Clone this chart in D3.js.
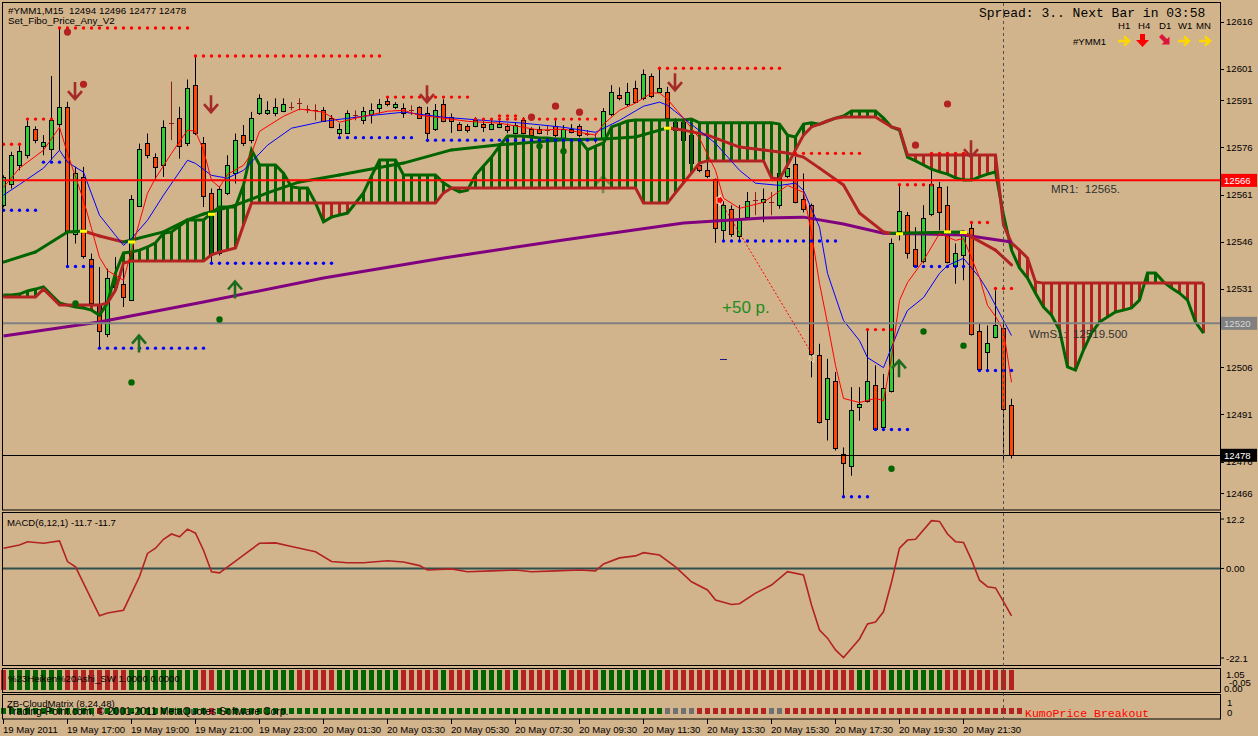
<!DOCTYPE html>
<html><head><meta charset="utf-8">
<script src="https://cdn.jsdelivr.net/npm/d3@7/dist/d3.min.js"></script>
<style>
html,body{margin:0;padding:0;background:#D2B48C;overflow:hidden}
svg{display:block}
text{white-space:pre}
</style>
</head><body>
<svg id="chart" width="1258" height="736"></svg>
<script>
// ---------------- DATA ----------------
// candles: [open, high, low, close] for bars 0..126 (M15)
const candles = [
[12557.6,12567.1,12556.9,12566.6],[12564.5,12574.6,12562.9,12573.7],[12570.5,12577.4,12568.7,12574.8],[12573.7,12584.6,12572.5,12582.7],
[12581.7,12582.7,12577.3,12578.5],[12576.4,12579.9,12573.5,12577.6],[12575.6,12598.7,12571.9,12584.6],[12583.6,12614.0,12575.1,12588.7],
[12588.7,12590.5,12537.9,12549.4],[12548.5,12569.8,12545.4,12567.7],[12566.6,12569.8,12540.6,12541.3],[12540.6,12542.2,12525.7,12526.4],
[12526.2,12537.9,12512.4,12517.7],[12516.7,12537.4,12515.6,12534.5],[12533.7,12541.1,12530.5,12531.5],[12532.6,12542.2,12525.2,12528.3],
[12527.5,12560.8,12527.3,12559.7],[12557.3,12577.2,12557.3,12575.6],[12577.5,12580.4,12572.5,12573.7],[12572.8,12574.1,12565.5,12569.6],
[12570.5,12584.6,12566.6,12582.5],[12583.8,12596.9,12578.3,12583.8],[12585.5,12588.9,12572.4,12576.4],[12577.4,12597.6,12576.4,12594.8],
[12595.8,12604.8,12579.9,12580.6],[12577.5,12579.3,12557.0,12560.5],[12561.6,12562.9,12539.5,12542.2],[12542.4,12563.6,12541.6,12562.6],
[12561.5,12573.5,12560.8,12570.5],[12567.9,12580.4,12564.5,12578.5],[12579.9,12583.1,12576.4,12577.5],[12578.3,12587.3,12577.3,12585.5],
[12586.8,12592.9,12586.3,12591.6],[12586.8,12590.7,12586.3,12587.8],[12586.8,12591.6,12585.9,12588.7],[12587.6,12591.6,12587.2,12589.7],
[12588.9,12590.4,12587.8,12588.9],[12590.0,12591.6,12587.8,12590.0],[12588.2,12589.4,12586.9,12588.2],[12587.8,12589.7,12584.6,12587.8],
[12587.8,12588.8,12584.3,12584.4],[12585.5,12586.3,12582.1,12582.5],[12580.7,12583.6,12579.7,12581.8],[12580.7,12587.8,12580.5,12586.8],
[12586.3,12587.8,12584.6,12586.3],[12584.6,12588.9,12583.4,12587.6],[12586.6,12590.0,12583.6,12587.8],[12588.6,12591.4,12586.8,12589.8],
[12590.7,12592.1,12589.1,12589.7],[12588.7,12590.4,12588.2,12589.8],[12588.6,12590.0,12585.4,12586.8],[12587.8,12589.4,12586.3,12587.8],
[12588.7,12589.1,12585.3,12585.5],[12586.8,12588.9,12577.7,12580.7],[12581.7,12589.8,12581.2,12587.8],[12589.8,12591.3,12584.0,12584.4],
[12585.7,12586.8,12580.6,12584.4],[12583.6,12584.0,12581.2,12581.5],[12582.7,12583.4,12580.7,12581.5],[12582.7,12585.6,12582.4,12584.6],
[12583.6,12584.3,12580.9,12582.5],[12581.7,12585.2,12581.5,12583.6],[12582.5,12584.6,12582.1,12583.6],[12582.7,12583.6,12580.5,12581.5],
[12580.6,12584.0,12580.2,12583.1],[12584.6,12585.6,12580.2,12580.6],[12581.7,12582.4,12579.2,12579.9],[12581.7,12582.7,12580.2,12580.6],
[12581.5,12583.1,12579.9,12581.5],[12582.7,12585.2,12579.2,12579.9],[12578.5,12583.1,12577.9,12582.0],[12582.0,12583.4,12580.5,12580.9],
[12582.7,12583.4,12579.2,12579.9],[12580.4,12581.5,12579.6,12580.4],[12578.9,12580.5,12577.3,12578.9],[12579.1,12588.5,12578.3,12587.6],
[12586.6,12595.8,12585.9,12593.7],[12592.6,12595.1,12591.0,12591.6],[12589.8,12596.5,12589.1,12593.7],[12594.8,12597.2,12590.1,12590.5],
[12591.6,12600.8,12591.0,12599.5],[12598.7,12599.5,12591.7,12592.4],[12593.7,12601.1,12593.3,12594.8],[12593.7,12595.3,12584.6,12585.5],
[12584.1,12585.3,12580.8,12581.5],[12584.1,12585.3,12577.6,12578.3],[12579.9,12581.5,12570.3,12570.9],[12570.3,12571.9,12568.1,12568.7],
[12568.7,12571.9,12566.2,12566.8],[12565.8,12566.1,12545.6,12550.5],[12549.6,12559.2,12546.4,12557.6],[12556.5,12557.6,12547.5,12548.5],
[12547.7,12557.6,12546.4,12552.8],[12553.8,12561.8,12553.4,12558.8],[12559.2,12561.8,12554.4,12559.2],[12558.6,12562.9,12552.2,12559.7],
[12558.6,12561.8,12554.4,12558.6],[12557.6,12569.8,12556.5,12567.7],[12566.8,12571.9,12566.2,12569.3],[12570.6,12573.0,12558.2,12558.6],
[12559.7,12567.7,12555.3,12556.5],[12557.6,12558.1,12502.8,12510.3],[12509.8,12513.5,12488.1,12488.5],[12489.6,12508.7,12482.7,12502.6],
[12501.6,12504.5,12479.5,12480.3],[12478.4,12480.5,12464.6,12475.4],[12474.7,12499.7,12471.5,12492.5],[12493.3,12499.7,12489.0,12494.4],
[12495.4,12517.7,12494.8,12501.5],[12500.4,12506.6,12485.8,12486.4],[12487.1,12503.9,12486.5,12499.5],[12498.6,12547.0,12498.0,12545.6],
[12549.3,12563.9,12546.4,12555.7],[12554.6,12555.4,12540.6,12542.4],[12543.5,12550.6,12537.9,12538.4],[12539.7,12557.6,12539.1,12553.5],
[12554.7,12569.3,12554.1,12564.5],[12563.4,12565.0,12549.6,12555.4],[12557.6,12563.6,12539.1,12539.5],[12538.4,12545.4,12532.6,12542.5],
[12541.6,12549.6,12533.7,12549.4],[12550.5,12552.2,12516.1,12516.7],[12517.7,12519.9,12505.0,12505.5],[12510.8,12519.3,12505.0,12513.7],
[12515.6,12530.5,12515.2,12519.6],[12518.6,12519.9,12475.8,12492.8],[12494,12496,12477,12478]
];
const priceTicks = [12616,12601,12591,12576,12561,12546,12531,12521,12506,12491,12476,12466];
const timeTickBars = [0,8,16,24,32,40,48,56,64,72,80,88,96,104,112,120];
const timeLabels = ["19 May 2011","19 May 17:00","19 May 19:00","19 May 21:00","19 May 23:00","20 May 01:30","20 May 03:30","20 May 05:30","20 May 07:30","20 May 09:30","20 May 11:30","20 May 13:30","20 May 15:30","20 May 17:30","20 May 19:30","20 May 21:30"];

// Ichimoku cloud spans, bars 0..150 (24 bars ahead)
const senkouA = [
12529.0,12529.0,12529.3,12530.3,12530.9,12531.6,12529.0,12526.5,12525.8,12525.2,
12524.9,12524.2,12522.6,12526.5,12536.0,12542.4,12542.7,12543.3,12544.3,12545.6,
12548.7,12549.1,12551.0,12552.9,12552.9,12552.9,12555.1,12557.0,12557.0,12557.0,
12564.0,12575.2,12570.4,12570.4,12570.4,12567.8,12563.4,12563.1,12563.1,12558.3,
12552.3,12553.8,12554.5,12555.1,12558.3,12561.5,12566.9,12572.0,12572.0,12572.0,
12567.2,12567.2,12567.2,12567.2,12567.2,12564.7,12563.1,12561.8,12562.4,12567.2,
12570.1,12572.9,12576.4,12579.6,12579.6,12579.6,12579.3,12579.0,12579.0,12578.7,
12578.7,12578.4,12578.4,12575.2,12576.4,12577.4,12582.5,12583.4,12584.4,12584.7,
12584.7,12584.7,12584.7,12584.7,12584.7,12584.7,12585.0,12583.8,12583.8,12583.8,
12583.8,12583.8,12583.8,12583.8,12583.8,12583.8,12583.8,12583.4,12579.9,12579.3,
12583.4,12583.8,12583.4,12584.4,12585.3,12586.0,12587.6,12587.6,12587.6,12587.6,
12585.3,12582.5,12581.5,12572.9,12571.7,12570.4,12569.1,12568.2,12567.5,12566.3,
12565.6,12565.6,12566.6,12567.5,12568.2,12554.5,12543.3,12537.6,12534.4,12529.6,
12525.2,12522.6,12517.9,12506.1,12505.1,12511.5,12516.9,12520.4,12522.0,12523.6,
12524.2,12524.9,12527.4,12536.0,12536.0,12533.2,12531.2,12529.6,12527.4,12520.4,
12516.9];
const senkouB = [
12528.4,12528.4,12528.4,12528.4,12528.4,12530.9,12528.4,12525.8,12525.8,12525.8,
12525.8,12525.8,12525.8,12526.5,12530.6,12539.2,12539.8,12539.8,12539.8,12539.8,
12539.8,12539.8,12539.8,12539.8,12539.8,12539.8,12541.8,12542.7,12543.3,12544.0,
12551.3,12558.3,12558.3,12558.3,12558.3,12558.3,12558.3,12558.3,12558.3,12558.3,
12558.3,12558.3,12558.3,12558.3,12558.3,12558.3,12558.3,12558.3,12558.3,12558.3,
12558.3,12558.3,12558.3,12558.3,12558.3,12561.5,12563.1,12563.1,12563.1,12563.1,
12563.1,12563.1,12563.1,12563.1,12563.1,12563.1,12563.1,12563.1,12563.1,12563.1,
12563.1,12563.1,12563.1,12563.1,12563.1,12563.1,12563.1,12563.1,12563.1,12563.1,
12558.3,12558.3,12558.3,12558.3,12561.5,12564.7,12567.8,12571.0,12571.7,12571.7,
12571.7,12571.7,12571.7,12571.7,12571.7,12571.7,12566.3,12565.9,12570.4,12575.2,
12579.9,12582.5,12583.4,12584.4,12585.3,12585.7,12585.7,12585.7,12585.7,12585.7,
12584.1,12582.5,12581.8,12573.6,12573.6,12573.6,12573.6,12573.6,12573.6,12573.6,
12573.6,12573.6,12573.6,12573.6,12573.6,12551.3,12545.6,12543.3,12540.8,12533.2,
12532.8,12532.8,12532.8,12532.8,12532.8,12532.8,12532.8,12532.8,12532.8,12532.8,
12532.8,12532.8,12532.8,12532.8,12532.8,12532.8,12532.8,12532.8,12532.8,12532.8,
12532.8];

// moving averages read as [bar, price]
const trendMA = [[0,12539.5],[4,12542.7],[8,12549.1],[10,12549.4],[12,12547.8],[15,12545.9],[16,12546.5],[20,12549.1],[23,12552.9],[25,12554.8],[29,12557.6],[33,12561.5],[37,12565.0],[42,12567.2],[50,12571.0],[56,12575.2],[62,12576.8],[70,12578.4],[75,12578.7],[79,12579.3],[83,12582.2],[85,12581.5],[88,12579.9],[92,12576.1],[95,12575.2],[98,12574.2],[100,12572.9],[102,12569.4],[105,12564.0],[107,12555.1],[110,12549.1],[111,12548.7],[120,12549.1],[121,12547.5],[124,12543.3],[126,12538.6]];
const slowMA = [[0,12516.0],[12,12520.4],[25,12526.8],[40,12534.4],[55,12540.8],[70,12546.5],[85,12551.9],[95,12553.5],[100,12553.8],[105,12551.6],[110,12548.7],[115,12548.4],[120,12548.1],[126,12545.9]];
const fastMA = [[0,12563.3],[2,12569.4],[5,12575.1],[7,12582.4],[8,12574.1],[10,12559.2],[11,12550.2],[12,12541.0],[13,12536.8],[15,12533.7],[16,12543.2],[18,12561.4],[19,12566.2],[21,12574.1],[23,12581.5],[24,12581.1],[25,12575.1],[26,12565.5],[27,12563.3],[28,12567.4],[30,12570.3],[31,12574.1],[32,12581.1],[35,12585.9],[37,12588.2],[40,12587.2],[42,12584.0],[45,12585.9],[48,12587.5],[50,12587.8],[52,12586.2],[55,12585.3],[58,12584.3],[62,12583.7],[65,12582.4],[67,12581.5],[70,12581.8],[72,12580.8],[74,12579.9],[75,12583.4],[77,12587.8],[79,12590.1],[81,12593.3],[82,12593.3],[83,12591.3],[85,12585.3],[87,12578.9],[89,12568.7],[90,12559.8],[92,12556.6],[95,12558.5],[98,12563.9],[100,12561.7],[101,12548.6],[102,12532.7],[103,12520.0],[104,12506.6],[105,12496.1],[107,12494.8],[109,12496.1],[110,12495.4],[111,12509.1],[112,12527.3],[113,12533.0],[115,12540.0],[117,12548.6],[119,12546.4],[120,12547.0],[122,12534.6],[123,12525.7],[124,12522.2],[125,12517.7],[126,12501.2]];
const midMA = [[0,12560.8],[2,12564.2],[5,12569.4],[7,12575.1],[8,12571.3],[10,12568.1],[12,12554.4],[14,12548.0],[15,12544.8],[16,12547.0],[18,12552.8],[20,12560.8],[23,12571.9],[24,12570.9],[26,12567.1],[28,12566.2],[30,12568.7],[33,12576.7],[36,12582.1],[40,12584.3],[45,12585.9],[50,12587.2],[55,12585.6],[60,12584.6],[65,12583.7],[70,12582.4],[74,12580.8],[77,12584.6],[80,12589.1],[82,12590.4],[83,12589.4],[85,12585.3],[89,12577.3],[92,12568.7],[94,12564.6],[97,12563.9],[99,12564.6],[100,12562.3],[102,12550.6],[103,12535.9],[105,12520.9],[107,12514.5],[108,12509.1],[110,12505.9],[112,12518.7],[113,12524.1],[115,12528.2],[117,12535.9],[118,12538.4],[120,12540.7],[122,12534.6],[123,12530.5],[126,12516.1]];

// MACD(6,12,1) main line read as [bar, value]
const macd = [[0,5.0],[2,5.8],[3,6.6],[5,6.2],[7,6.8],[8,1.7],[9,0.4],[12,-11.7],[13,-11.0],[15,-10.3],[17,-2.0],[18,3.7],[19,5.0],[20,7.2],[21,8.5],[22,7.8],[23,9.7],[24,8.7],[25,4.5],[26,-0.8],[27,-1.1],[29,1.8],[30,3.3],[32,6.2],[34,6.3],[36,5.4],[39,4.1],[41,1.7],[43,1.4],[45,1.4],[48,1.9],[50,1.6],[52,0.7],[53,-0.4],[56,-0.1],[58,-0.8],[61,-0.6],[64,-0.4],[66,-0.8],[69,-0.6],[72,-0.4],[74,-0.6],[75,1.1],[77,2.6],[79,3.1],[80,3.9],[82,3.3],[84,0.4],[86,-3.3],[88,-5.3],[89,-7.8],[91,-8.9],[92,-8.7],[94,-6.1],[96,-4.1],[98,-0.8],[100,-1.6],[101,-9.0],[102,-15.2],[103,-17.2],[104,-20.1],[105,-22.0],[107,-17.4],[108,-13.7],[109,-13.2],[110,-10.7],[111,-3.4],[112,5.0],[113,7.0],[114,7.2],[116,11.8],[117,11.6],[118,8.5],[119,6.6],[120,6.4],[121,2.1],[122,-2.9],[123,-4.5],[124,-4.8],[125,-8.2],[126,-11.7]];
const macdTicks = [12.2, 0, -22.1];
const macdTickLabels = ["12.2","0.00","-22.1"];

// Heiken Ashi colour per bar (G up / R down) and CloudMatrix state (G, R, A = neutral)
const haColors = "RGGGGGGGRRRRRRRRGGGGGGGGGRRGGGGGGGGGGRRRRRGGGGGGGGRRRRRGRRRGGGGRGRRRRRGRRRRGGGGGGGGRRRRRRRRRRRRRRRRRRRRRRRRGGRRGGGGGGGRRRRRRRRR";
const cloudMatrix = "GGGGGGGGGGGGRGGGGGGGGGGGGGRGGGGGGGGGGGGGGGGGGGGGGGGGGGGGGGGGGGGGGGGGGGGGGGGGGGGGGGGAAAARRRRRRRRRAARRRRRRRRRRRRRRRRRRRRRRRRRRRRRR";

// dotted support / resistance levels: [fromBar, toBar, price]
const redLevels = [[7,23,12614.0],[24,47,12605.1],[82,97,12601.2],[0,2,12577.0],[3,6,12585.0],[48,58,12592.0],[59,74,12585.0],[62,64,12586.0],[99,107,12574.1],[116,120,12574.1],[112,116,12564.1],[121,123,12552.1],[124,126,12531.1],[108,111,12518.0]];
const blueLevels = [[0,4,12556.0],[5,7,12571.3],[8,11,12538.1],[12,25,12512.1],[26,41,12539.1],[42,51,12579.1],[53,74,12578.3],[90,104,12546.2],[114,120,12538.1],[122,126,12505.0],[109,113,12486.2],[105,108,12464.8]];
// signal arrows [bar, price at the arrow tail]
const downArrows = [[9,12596.8],[26,12592.6],[53,12595.8],[84,12599.6],[121,12578.3]];
const upArrows = [[17,12510.7],[29,12527.9],[112,12502.8],[75,12561.4]];
const redDots = [[8,12612.7],[10,12596.1],[66,12585.6],[69,12589.1],[72,12587.2],[114,12576.7],[118,12589.8]];
const greenDots = [[9,12526.3],[16,12501.2],[27,12521.2],[67,12576.4],[70,12574.8],[111,12473.7],[115,12517.4],[120,12512.9]];
const yellowMarks = [[10,12549.3],[16,12545.9],[26,12554.7],[83,12582.1],[112,12548.5],[118,12549.1],[120,12548.9]];
const trade = [[89.6,12559.2],[101.1,12510.4]];
const pivotMR1 = 12565.5, pivotWmS1 = 12520, bidPrice = 12478;
const lastBar = 125;

// ---------------- DRAW ----------------
const SANS = '"Liberation Sans", Arial, sans-serif';
const MONO = '"Liberation Mono", "Courier New", monospace';
const svg = d3.select("#chart");
const BG = "#D2B48C", GREEN = "#006400", BROWN = "#B22222";
svg.append("rect").attr("width",1258).attr("height",736).attr("fill",BG);

function txt(g,xp,yp,s,size,col,fam){
  return g.append("text").attr("x",xp).attr("y",yp).style("font-family",fam||SANS)
    .style("font-size",size+"px").attr("fill",col||"#000").text(s);
}

const x = d3.scaleLinear().domain([0,150]).range([3,1203]);
const y = d3.scaleLinear().domain([12466,12616]).range([493,21.7]);
const yM = d3.scaleLinear().domain([-22.1,12.2]).range([658,519]);

const defs = svg.append("defs");
defs.append("clipPath").attr("id","cm").append("rect").attr("x",3).attr("y",3).attr("width",1217).attr("height",507);
defs.append("clipPath").attr("id","cmacd").append("rect").attr("x",3).attr("y",513).attr("width",1217).attr("height",152);

const main = svg.append("g").attr("clip-path","url(#cm)");

function upArrow(g,k,p,col,op){
  const cx=x(k), yb=y(p);
  g.append("path").attr("d",`M${cx},${yb} V${yb-17} M${cx-7},${yb-9} L${cx},${yb-17} L${cx+7},${yb-9}`)
   .attr("fill","none").attr("stroke",col).attr("stroke-width",2.6).attr("opacity",op||1);
}
function downArrow(g,k,p,col){
  const cx=x(k), yt=y(p);
  g.append("path").attr("d",`M${cx},${yt} V${yt+17} M${cx-7},${yt+9} L${cx},${yt+17} L${cx+7},${yt+9}`)
   .attr("fill","none").attr("stroke",col).attr("stroke-width",2.6);
}
upArrows.filter(a=>a[0]===75).forEach(a=>upArrow(main,a[0],a[1],"#2E6B1E",0.55));

// candles
const cg = main.append("g");
candles.forEach((c,k)=>{
  const [o,h,l,cl]=c, cx=Math.round(x(k));
  const doji = Math.abs(cl-o)<0.05;
  cg.append("line").attr("x1",cx+0.5).attr("x2",cx+0.5).attr("y1",y(h)).attr("y2",y(l))
    .attr("stroke",doji?"#8B1A1A":"#000").attr("stroke-width",1);
  if(doji){
    cg.append("line").attr("x1",cx-2).attr("x2",cx+3).attr("y1",Math.round(y(o))+0.5).attr("y2",Math.round(y(o))+0.5)
      .attr("stroke","#8B1A1A").attr("stroke-width",1);
  } else {
    const top=Math.round(y(Math.max(o,cl))), bot=Math.round(y(Math.min(o,cl)));
    cg.append("rect").attr("x",cx-1.5).attr("y",top+0.5).attr("width",4).attr("height",Math.max(1,bot-top))
      .attr("fill",cl>o?"#32CD32":"#FF4500").attr("stroke","#000").attr("stroke-width",1);
  }
});

// ichimoku cloud hatch
const hg = main.append("g");
senkouA.forEach((a,k)=>{
  const b=senkouB[k];
  hg.append("line").attr("x1",x(k)+0.5).attr("x2",x(k)+0.5).attr("y1",y(a)).attr("y2",y(b))
    .attr("stroke",a>=b?GREEN:BROWN).attr("stroke-width",3);
});
const lineK = d3.line().x((d)=>x(d[0])+0.5).y(d=>y(d[1]));
main.append("path").attr("d",lineK(senkouA.map((v,k)=>[k,v]))).attr("fill","none").attr("stroke",GREEN).attr("stroke-width",3);
main.append("path").attr("d",lineK(senkouB.map((v,k)=>[k,v]))).attr("fill","none").attr("stroke",BROWN).attr("stroke-width",3);

// slow purple MA
main.append("path").attr("d",lineK(slowMA)).attr("fill","none").attr("stroke","#800080").attr("stroke-width",3);
// two-colour trend MA
for(let i=0;i<trendMA.length-1;i++){
  const a=trendMA[i], b=trendMA[i+1];
  main.append("path").attr("d",lineK([a,b])).attr("fill","none")
    .attr("stroke",b[1]>=a[1]?GREEN:BROWN).attr("stroke-width",3).attr("stroke-linecap","round");
}
// fast MAs
main.append("path").attr("d",lineK(midMA)).attr("fill","none").attr("stroke","#0000FF").attr("stroke-width",1);
main.append("path").attr("d",lineK(fastMA)).attr("fill","none").attr("stroke","#FF0000").attr("stroke-width",1);

// horizontal levels
main.append("line").attr("x1",3).attr("x2",1220).attr("y1",y(pivotMR1)).attr("y2",y(pivotMR1)).attr("stroke","#FF0000").attr("stroke-width",2);
main.append("line").attr("x1",3).attr("x2",1220).attr("y1",y(pivotWmS1)).attr("y2",y(pivotWmS1)).attr("stroke","#808080").attr("stroke-width",2);
main.append("line").attr("x1",3).attr("x2",1220).attr("y1",Math.round(y(bidPrice))+0.5).attr("y2",Math.round(y(bidPrice))+0.5).attr("stroke","#000").attr("stroke-width",1);

// dotted levels
function dots(levels,col){
  levels.forEach(L=>{
    for(let k=L[0];k<=L[1];k++){
      main.append("circle").attr("cx",x(k)+0.5).attr("cy",y(L[2])).attr("r",1.7).attr("fill",col);
    }
  });
}
dots(redLevels,"#FF0000");
dots(blueLevels,"#0000FF");

// arrows, dots, markers
downArrows.forEach(a=>downArrow(main,a[0],a[1],"#A52A2A"));
upArrows.filter(a=>a[0]!==75).forEach(a=>upArrow(main,a[0],a[1],"#1E6B1E"));
redDots.forEach(d=>main.append("circle").attr("cx",x(d[0])+0.5).attr("cy",y(d[1])).attr("r",3.6).attr("fill",BROWN));
greenDots.forEach(d=>main.append("circle").attr("cx",x(d[0])+0.5).attr("cy",y(d[1])).attr("r",3.2).attr("fill",GREEN));
yellowMarks.forEach(d=>main.append("rect").attr("x",x(d[0])-3).attr("y",y(d[1])-1.5).attr("width",7).attr("height",3).attr("fill","#FFFF00"));

// trade line
main.append("line").attr("x1",x(trade[0][0])).attr("y1",y(trade[0][1])).attr("x2",x(trade[1][0])).attr("y2",y(trade[1][1]))
  .attr("stroke","#FF0000").attr("stroke-width",1).attr("stroke-dasharray","2,2");
{
  const sx=x(trade[0][0]), sy=y(trade[0][1]);
  main.append("path").attr("d",`M${sx-3},${sy-3} h3 v-2 l4,5 l-4,5 v-2 h-3 z`).attr("fill","#FF0000").attr("stroke","#fff").attr("stroke-width",0.8);
  const ex=x(trade[1][0]), ey=y(trade[1][1]);
  main.append("path").attr("d",`M${ex-3},${ey+5} l5,-4 v8 z`).attr("fill","#C8A060").attr("stroke","#fff").attr("stroke-width",0.6);
}
txt(main,722,313,"+50 p.",17,"#228B22");
main.append("line").attr("x1",720).attr("x2",727).attr("y1",359.5).attr("y2",359.5).attr("stroke","#1a1a80").attr("stroke-width",1);
txt(main,1051,193,"MR1:  12565.",11.5,"#303030");
txt(main,1029,338,"WmS1:  12519.500",11.5,"#303030");

// header texts
txt(svg,8,14,"#YMM1,M15  12494 12496 12477 12478",9.8);
txt(svg,8,24,"Set_Fibo_Price_Any_V2",9.8);
txt(svg,979,17,"Spread: 3.. Next Bar in 03:58",13,"#000",MONO);
const tfs=["H1","H4","D1","W1","MN"], tfx=[1118,1138,1159,1178,1196];
tfs.forEach((t,i)=>txt(svg,tfx[i],29,t,9.6));
txt(svg,1073,45,"#YMM1",9.6);
function rightArrow(cx,cy,col){
  svg.append("path").attr("d",`M${cx-6},${cy} H${cx+4} M${cx},${cy-4.5} L${cx+5},${cy} L${cx},${cy+4.5}`).attr("fill","none").attr("stroke",col).attr("stroke-width",2.6);
}
rightArrow(1124,41,"#FFD700"); rightArrow(1184,41,"#FFD700"); rightArrow(1205,41,"#FFD700");
svg.append("path").attr("d","M1140,34 h5 v6 h4 l-6.5,7 l-6.5,-7 h4 z").attr("fill","#FF0000");
svg.append("path").attr("d","M1159,37 l3,-3 l5,5 l2.5,-2.5 v8 h-8 l2.5,-2.5 z").attr("fill","#DC143C");

// MACD panel
const mg = svg.append("g").attr("clip-path","url(#cmacd)");
mg.append("line").attr("x1",3).attr("x2",1220).attr("y1",yM(0)).attr("y2",yM(0)).attr("stroke","#2F4F4F").attr("stroke-width",2);
mg.append("path").attr("d",d3.line().x(d=>x(d[0])+0.5).y(d=>yM(d[1]))(macd)).attr("fill","none").attr("stroke",BROWN).attr("stroke-width",1.6);
txt(svg,7,526,"MACD(6,12,1) -11.7 -11.7",9.6);
macdTicks.forEach((v,i)=>{
  svg.append("line").attr("x1",1220).attr("x2",1224).attr("y1",yM(v)).attr("y2",yM(v)).attr("stroke","#000");
  txt(svg,1226,yM(v)+3.5,macdTickLabels[i],9.6);
});

// Heiken Ashi strip
const haCol = {G:GREEN,R:BROWN};
haColors.split("").forEach((c,k)=>{
  svg.append("rect").attr("x",Math.round(x(k))-2).attr("y",670).attr("width",5).attr("height",20).attr("fill",haCol[c]);
});
txt(svg,8,682,"%23Heiken%20Ashi_SW 1.0000 0.0000",9.6);
txt(svg,1226,678,"1.05",9.6);
txt(svg,1229,686,"-0.05",9.6);
txt(svg,1224,692,"0.00",9.6);

// Cloud matrix strip
const cmCol = {G:GREEN,R:BROWN,A:"#707070"};
cloudMatrix.split("").forEach((c,k)=>{
  svg.append("rect").attr("x",Math.round(x(k))-2).attr("y",708).attr("width",5).attr("height",6).attr("fill",cmCol[c]);
});
txt(svg,7,707,"ZB-CloudMatrix (8,24,48)",9.6);
txt(svg,7,715,"Trading-Point.com, © 2001-2011 MetaQuotes Software Corp.",10.4);
txt(svg,1025,717,"KumoPrice Breakout",11.5,"#FF0000",MONO);
txt(svg,1227,706,"1",9.6);
txt(svg,1227,716,"0",9.6);

// panel frames
[[2.5,2.5,1218,507.5],[2.5,512.5,1218,153],[2.5,668.5,1218,24],[2.5,694.5,1218,24.5]].forEach(r=>{
  svg.append("rect").attr("x",r[0]).attr("y",r[1]).attr("width",r[2]).attr("height",r[3]).attr("fill","none").attr("stroke","#000").attr("stroke-width",1);
});

// price axis
priceTicks.forEach(p=>{
  svg.append("line").attr("x1",1220).attr("x2",1224).attr("y1",Math.round(y(p))+0.5).attr("y2",Math.round(y(p))+0.5).attr("stroke","#000");
  txt(svg,1226,y(p)+3.5,String(p),9.6);
});
function priceBox(p,bg,fg,label){
  const cy=y(p);
  svg.append("rect").attr("x",1221).attr("y",cy-6.5).attr("width",36).attr("height",13).attr("fill",bg);
  txt(svg,1224,cy+3.6,label,9.6,fg);
}
priceBox(pivotMR1,"#FF0000","#fff","12566");
priceBox(pivotWmS1,"#808080","#d8d8d8","12520");
priceBox(bidPrice,"#000","#fff","12478");

// time axis
timeTickBars.forEach((k,i)=>{
  const tx=Math.round(x(k))+0.5;
  svg.append("line").attr("x1",tx).attr("x2",tx).attr("y1",719).attr("y2",724).attr("stroke","#000");
  txt(svg,tx-0.5,733,timeLabels[i],9.6);
});

// current-bar vertical dashed line
svg.append("line").attr("x1",x(lastBar)+0.5).attr("x2",x(lastBar)+0.5).attr("y1",3).attr("y2",719)
  .attr("stroke","#505050").attr("stroke-width",1).attr("stroke-dasharray","3,3");
</script>
</body></html>
